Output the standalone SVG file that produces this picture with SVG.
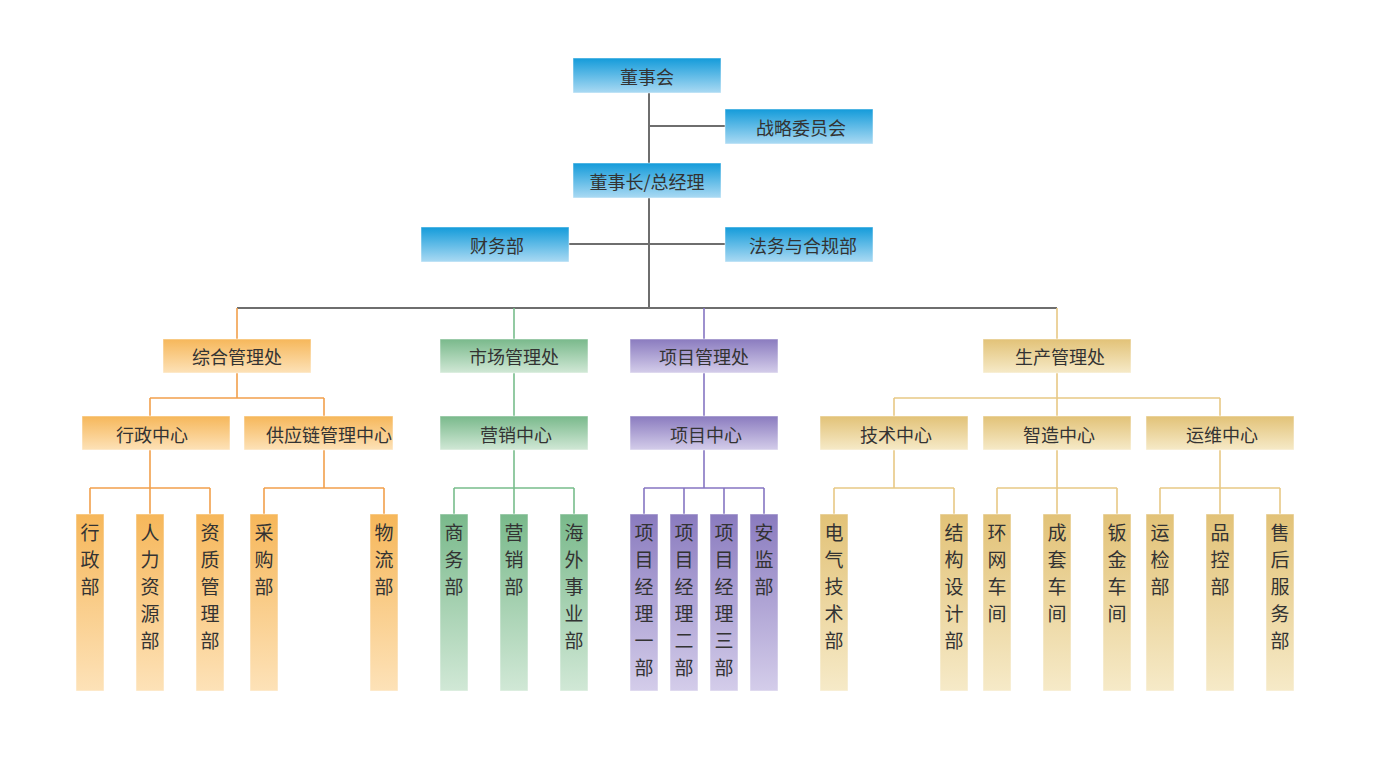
<svg xmlns="http://www.w3.org/2000/svg" width="1383" height="777" viewBox="0 0 1383 777">
<defs>
<linearGradient id="gB" x1="0" y1="0" x2="0" y2="1"><stop offset="0" stop-color="#139bda"/><stop offset="1" stop-color="#abdaf3"/></linearGradient>
<linearGradient id="gO" x1="0" y1="0" x2="0" y2="1"><stop offset="0" stop-color="#f6b75a"/><stop offset="1" stop-color="#fde2b8"/></linearGradient>
<linearGradient id="gG" x1="0" y1="0" x2="0" y2="1"><stop offset="0" stop-color="#79b98b"/><stop offset="1" stop-color="#d1e8d6"/></linearGradient>
<linearGradient id="gP" x1="0" y1="0" x2="0" y2="1"><stop offset="0" stop-color="#8a7bbf"/><stop offset="1" stop-color="#d4cdea"/></linearGradient>
<linearGradient id="gY" x1="0" y1="0" x2="0" y2="1"><stop offset="0" stop-color="#e2c277"/><stop offset="1" stop-color="#f6eac8"/></linearGradient>
</defs>
<style>
text{font-family:"Noto Sans CJK SC","Noto Sans",sans-serif;fill:#333;}
.h{font-size:18px;text-anchor:middle;dominant-baseline:central;}
.v{font-size:19px;text-anchor:middle;}
.b{fill:url(#gB);}
.o{fill:url(#gO);}
.g{fill:url(#gG);}
.p{fill:url(#gP);}
.y{fill:url(#gY);}
rect{stroke:#ffffff;stroke-opacity:0.5;stroke-width:1;}
.c path{fill:none;}
.k{stroke:#6e6e6e;stroke-width:2;}
.lo{stroke:#f2a04c;stroke-width:1.6;}
.lg{stroke:#78bd8c;stroke-width:1.6;}
.lp{stroke:#8676c2;stroke-width:1.6;}
.ly{stroke:#e8c985;stroke-width:1.6;}
</style>
<g class="c" id="connectors">
<path class="k" d="M649 93V308M649 126H725M569 244H725M237 308H1057"/>
<path class="lo" d="M237 308V339M237 373V398M150 398H324M150 398V416M324 398V416M150 450V514M90 488H210M90 488V514M210 488V514M324 450V488M264 488H384M264 488V514M384 488V514"/>
<path class="lg" d="M514 308V339M514 373V416M514 450V514M454 488H574M454 488V514M574 488V514"/>
<path class="lp" d="M704 308V339M704 373V416M704 450V488M644 488H764M644 488V514M684 488V514M724 488V514M764 488V514"/>
<path class="ly" d="M1057 308V339M1057 373V416M894 398H1220M894 398V416M1220 398V416M894 450V488M834 488H954M834 488V514M954 488V514M1057 450V514M997 488H1117M997 488V514M1117 488V514M1220 450V514M1160 488H1280M1160 488V514M1280 488V514"/>
</g>
<g id="n-dongshihui"><rect class="b" x="573" y="58" width="148" height="35"/><text class="h" x="647" y="76">董事会</text></g>
<g id="n-zhanlue"><rect class="b" x="725" y="109" width="148" height="35"/><text class="h" x="801" y="127">战略委员会</text></g>
<g id="n-zongjingli"><rect class="b" x="573" y="163" width="148" height="35"/><text class="h" x="647" y="181">董事长/总经理</text></g>
<g id="n-caiwu"><rect class="b" x="421" y="227" width="148" height="35"/><text class="h" x="497" y="245">财务部</text></g>
<g id="n-fawu"><rect class="b" x="725" y="227" width="148" height="35"/><text class="h" x="803" y="245">法务与合规部</text></g>

<g id="n-zonghe"><rect class="o" x="163" y="339" width="148" height="34"/><text class="h" x="237" y="356">综合管理处</text></g>
<g id="n-shichang"><rect class="g" x="440" y="339" width="148" height="34"/><text class="h" x="514" y="356">市场管理处</text></g>
<g id="n-xiangmuchu"><rect class="p" x="630" y="339" width="148" height="34"/><text class="h" x="704" y="356">项目管理处</text></g>
<g id="n-shengchan"><rect class="y" x="983" y="339" width="148" height="34"/><text class="h" x="1060" y="356">生产管理处</text></g>

<g id="n-xingzhengzx"><rect class="o" x="82" y="416" width="148" height="34"/><text class="h" x="152" y="434">行政中心</text></g>
<g id="n-gongying"><rect class="o" x="244" y="416" width="149" height="34"/><text class="h" x="329" y="434">供应链管理中心</text></g>
<g id="n-yingxiaozx"><rect class="g" x="440" y="416" width="148" height="34"/><text class="h" x="516" y="434">营销中心</text></g>
<g id="n-xiangmuzx"><rect class="p" x="630" y="416" width="148" height="34"/><text class="h" x="706" y="434">项目中心</text></g>
<g id="n-jishu"><rect class="y" x="820" y="416" width="148" height="34"/><text class="h" x="896" y="434">技术中心</text></g>
<g id="n-zhizao"><rect class="y" x="983" y="416" width="148" height="34"/><text class="h" x="1059" y="434">智造中心</text></g>
<g id="n-yunwei"><rect class="y" x="1146" y="416" width="148" height="34"/><text class="h" x="1222" y="434">运维中心</text></g>

<g id="n-xingzhengbu"><rect class="o" x="76" y="514" width="28" height="177"/><text class="v" x="90" y="540">行<tspan x="90" dy="27">政</tspan><tspan x="90" dy="27">部</tspan></text></g>
<g id="n-renli"><rect class="o" x="136" y="514" width="28" height="177"/><text class="v" x="150" y="540">人<tspan x="150" dy="27">力</tspan><tspan x="150" dy="27">资</tspan><tspan x="150" dy="27">源</tspan><tspan x="150" dy="27">部</tspan></text></g>
<g id="n-zizhi"><rect class="o" x="196" y="514" width="28" height="177"/><text class="v" x="210" y="540">资<tspan x="210" dy="27">质</tspan><tspan x="210" dy="27">管</tspan><tspan x="210" dy="27">理</tspan><tspan x="210" dy="27">部</tspan></text></g>
<g id="n-caigou"><rect class="o" x="250" y="514" width="28" height="177"/><text class="v" x="264" y="540">采<tspan x="264" dy="27">购</tspan><tspan x="264" dy="27">部</tspan></text></g>
<g id="n-wuliu"><rect class="o" x="370" y="514" width="28" height="177"/><text class="v" x="384" y="540">物<tspan x="384" dy="27">流</tspan><tspan x="384" dy="27">部</tspan></text></g>

<g id="n-shangwu"><rect class="g" x="440" y="514" width="28" height="177"/><text class="v" x="454" y="540">商<tspan x="454" dy="27">务</tspan><tspan x="454" dy="27">部</tspan></text></g>
<g id="n-yingxiaobu"><rect class="g" x="500" y="514" width="28" height="177"/><text class="v" x="514" y="540">营<tspan x="514" dy="27">销</tspan><tspan x="514" dy="27">部</tspan></text></g>
<g id="n-haiwai"><rect class="g" x="560" y="514" width="28" height="177"/><text class="v" x="574" y="540">海<tspan x="574" dy="27">外</tspan><tspan x="574" dy="27">事</tspan><tspan x="574" dy="27">业</tspan><tspan x="574" dy="27">部</tspan></text></g>

<g id="n-xm1"><rect class="p" x="630" y="514" width="28" height="177"/><text class="v" x="644" y="540">项<tspan x="644" dy="27">目</tspan><tspan x="644" dy="27">经</tspan><tspan x="644" dy="27">理</tspan><tspan x="644" dy="27">一</tspan><tspan x="644" dy="27">部</tspan></text></g>
<g id="n-xm2"><rect class="p" x="670" y="514" width="28" height="177"/><text class="v" x="684" y="540">项<tspan x="684" dy="27">目</tspan><tspan x="684" dy="27">经</tspan><tspan x="684" dy="27">理</tspan><tspan x="684" dy="27">二</tspan><tspan x="684" dy="27">部</tspan></text></g>
<g id="n-xm3"><rect class="p" x="710" y="514" width="28" height="177"/><text class="v" x="724" y="540">项<tspan x="724" dy="27">目</tspan><tspan x="724" dy="27">经</tspan><tspan x="724" dy="27">理</tspan><tspan x="724" dy="27">三</tspan><tspan x="724" dy="27">部</tspan></text></g>
<g id="n-anjian"><rect class="p" x="750" y="514" width="28" height="177"/><text class="v" x="764" y="540">安<tspan x="764" dy="27">监</tspan><tspan x="764" dy="27">部</tspan></text></g>

<g id="n-dianqi"><rect class="y" x="820" y="514" width="28" height="177"/><text class="v" x="834" y="540">电<tspan x="834" dy="27">气</tspan><tspan x="834" dy="27">技</tspan><tspan x="834" dy="27">术</tspan><tspan x="834" dy="27">部</tspan></text></g>
<g id="n-jiegou"><rect class="y" x="940" y="514" width="28" height="177"/><text class="v" x="954" y="540">结<tspan x="954" dy="27">构</tspan><tspan x="954" dy="27">设</tspan><tspan x="954" dy="27">计</tspan><tspan x="954" dy="27">部</tspan></text></g>
<g id="n-huanwang"><rect class="y" x="983" y="514" width="28" height="177"/><text class="v" x="997" y="540">环<tspan x="997" dy="27">网</tspan><tspan x="997" dy="27">车</tspan><tspan x="997" dy="27">间</tspan></text></g>
<g id="n-chengtao"><rect class="y" x="1043" y="514" width="28" height="177"/><text class="v" x="1057" y="540">成<tspan x="1057" dy="27">套</tspan><tspan x="1057" dy="27">车</tspan><tspan x="1057" dy="27">间</tspan></text></g>
<g id="n-banjin"><rect class="y" x="1103" y="514" width="28" height="177"/><text class="v" x="1117" y="540">钣<tspan x="1117" dy="27">金</tspan><tspan x="1117" dy="27">车</tspan><tspan x="1117" dy="27">间</tspan></text></g>
<g id="n-yunjian"><rect class="y" x="1146" y="514" width="28" height="177"/><text class="v" x="1160" y="540">运<tspan x="1160" dy="27">检</tspan><tspan x="1160" dy="27">部</tspan></text></g>
<g id="n-pinkong"><rect class="y" x="1206" y="514" width="28" height="177"/><text class="v" x="1220" y="540">品<tspan x="1220" dy="27">控</tspan><tspan x="1220" dy="27">部</tspan></text></g>
<g id="n-shouhou"><rect class="y" x="1266" y="514" width="28" height="177"/><text class="v" x="1280" y="540">售<tspan x="1280" dy="27">后</tspan><tspan x="1280" dy="27">服</tspan><tspan x="1280" dy="27">务</tspan><tspan x="1280" dy="27">部</tspan></text></g>
</svg>
